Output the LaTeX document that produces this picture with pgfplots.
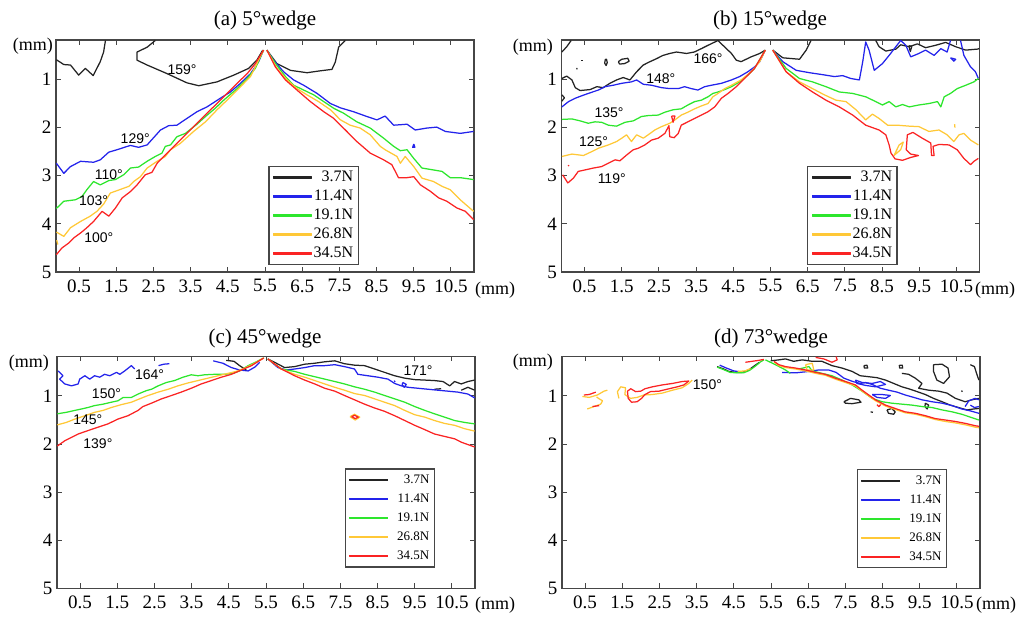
\documentclass[border=0pt]{standalone}
\usepackage{fontspec}
\setmainfont{Liberation Serif}
\newfontfamily\arial{Liberation Sans}
\usepackage{pgfplots}
\pgfplotsset{compat=1.18}
\definecolor{cblk}{RGB}{35,35,35}
\definecolor{cblu}{RGB}{35,35,235}
\definecolor{cgrn}{RGB}{45,230,45}
\definecolor{corg}{RGB}{255,200,55}
\definecolor{cred}{RGB}{250,35,35}
\definecolor{axc}{RGB}{70,70,70}
\pgfplotsset{
  blk/.style={color=cblk,line width=1.25pt},
  blu/.style={color=cblu,line width=1.25pt},
  grn/.style={color=cgrn,line width=1.25pt},
  org/.style={color=corg,line width=1.25pt},
  rd/.style={color=cred,line width=1.25pt},
  panel/.style={width=418pt,height=232pt,scale only axis,
    xmin=-0.12,xmax=11.12,ymin=0.18,ymax=5,y dir=reverse,
    xtick={0.5,1.5,2.5,3.5,4.5,5.5,6.5,7.5,8.5,9.5,10.5},
    xticklabels={0.5,1.5,2.5,3.5,4.5,5.5,6.5,7.5,8.5,9.5,10.5},
    ytick={1,2,3,4,5},yticklabels={1,2,3,4,5},
    tick align=inside,major tick length=5pt,
    axis line style={axc,line width=1.2pt},
    tick style={axc,line width=1pt},
    xticklabel style={font=\fontsize{19}{19}\selectfont,yshift=-4pt},
    yticklabel style={font=\fontsize{19}{19}\selectfont,xshift=-1pt},
    clip=false,
    legend cell align=right,
    every axis plot/.append style={line join=round},
  },
  lg/.style={legend style={at={#1},anchor=north west,draw=axc,line width=1.2pt,fill=white,
    inner xsep=4pt,inner ysep=3pt,row sep=3pt,
    nodes={inner sep=1pt,text height=11pt,text depth=3pt}}},
}
\pgfplotsset{legend image code/.code={\fill[#1] (0pt,-0.7pt) rectangle (38pt,0.7pt);}}
\newcommand{\ang}[3]{\node[font=\arial\fontsize{14}{14}\selectfont,inner sep=0pt] at (axis cs:#1,#2) {#3};}
\newcommand{\legs}[1]{%
  \addlegendimage{color=cblk,fill=cblk}\addlegendentry{\makebox[40pt][r]{#13.7N}}
  \addlegendimage{color=cblu,fill=cblu}\addlegendentry{\makebox[40pt][r]{#111.4N}}
  \addlegendimage{color=cgrn,fill=cgrn}\addlegendentry{\makebox[40pt][r]{#119.1N}}
  \addlegendimage{color=corg,fill=corg}\addlegendentry{\makebox[40pt][r]{#126.8N}}
  \addlegendimage{color=cred,fill=cred}\addlegendentry{\makebox[40pt][r]{#134.5N}}}
\begin{document}
\begin{tikzpicture}
\path[use as bounding box] (0pt,0pt) rectangle (1018pt,618pt);
% ================= (a) =================
\begin{axis}[panel,at={(265pt,462pt)},anchor=center,lg={(0.508,0.457)}]
\legs{\fontsize{16}{16}\selectfont}
\addplot[blk] coordinates {(-0.11,0.59)(0.09,0.69)(0.27,0.70)(0.49,0.91)(0.67,0.77)(0.88,0.92)(1.07,0.63)(1.16,0.43)(1.21,0.19)};
\addplot[blk] coordinates {(2.55,0.19)(2.33,0.33)(2.06,0.43)(2.06,0.60)(2.33,0.70)(2.87,0.88)(3.40,1.07)(3.72,1.13)(4.21,1.05)(4.66,0.91)(5.06,0.77)(5.28,0.60)(5.44,0.39)};
\addplot[blk] coordinates {(5.55,0.39)(5.82,0.67)(6.18,0.81)(6.63,0.86)(6.99,0.82)(7.30,0.79)(7.39,0.64)(7.48,0.33)(7.66,0.19)};
\addplot[blu] coordinates {(-0.11,2.74)(0.09,2.95)(0.27,2.81)(0.54,2.70)(0.89,2.72)(1.07,2.67)(1.30,2.51)(1.52,2.46)(1.88,2.37)(2.10,2.41)(2.33,2.36)(2.69,2.05)(2.91,1.96)(3.13,1.95)(3.40,1.81)(3.67,1.67)(3.94,1.57)(4.30,1.39)(4.57,1.26)(4.84,1.08)(5.11,0.88)(5.33,0.63)(5.46,0.39)};
\addplot[blu] coordinates {(5.55,0.39)(5.73,0.60)(6.00,0.84)(6.27,1.01)(6.54,1.12)(6.90,1.29)(7.26,1.50)(7.53,1.59)(7.88,1.67)(8.24,1.77)(8.51,1.84)(8.73,1.76)(8.96,1.95)(9.32,1.93)(9.54,2.05)(9.85,2.01)(10.12,1.99)(10.35,2.08)(10.75,2.12)(11.11,2.08)};
\addplot[blu] coordinates {(9.50,2.34)(9.53,2.41)(9.47,2.41)(9.50,2.34)};
\addplot[grn] coordinates {(-0.11,3.68)(0.09,3.53)(0.40,3.50)(0.58,3.43)(0.71,3.29)(0.89,3.12)(1.07,3.19)(1.30,3.10)(1.48,3.08)(1.70,2.98)(1.88,2.84)(2.10,2.82)(2.33,2.70)(2.55,2.60)(2.73,2.53)(2.82,2.39)(2.96,2.36)(3.13,2.19)(3.36,2.12)(3.67,1.93)(3.90,1.77)(4.16,1.60)(4.39,1.43)(4.75,1.19)(5.02,0.98)(5.24,0.77)(5.46,0.39)};
\addplot[grn] coordinates {(5.55,0.39)(5.78,0.67)(6.05,0.94)(6.27,1.12)(6.54,1.22)(6.81,1.32)(7.08,1.46)(7.35,1.60)(7.61,1.70)(7.97,1.88)(8.33,2.01)(8.69,2.22)(8.96,2.39)(9.14,2.48)(9.32,2.46)(9.50,2.64)(9.72,2.84)(10.03,2.88)(10.26,2.91)(10.48,3.04)(10.75,3.04)(11.11,3.08)};
\addplot[org] coordinates {(-0.11,4.17)(0.09,4.26)(0.27,4.08)(0.54,3.95)(0.80,3.84)(0.98,3.74)(1.16,3.59)(1.34,3.36)(1.52,3.31)(1.84,3.22)(1.97,3.12)(2.15,3.02)(2.33,2.84)(2.60,2.70)(2.82,2.60)(2.96,2.46)(3.22,2.33)(3.58,2.08)(3.90,1.88)(4.21,1.63)(4.48,1.43)(4.75,1.22)(5.11,0.94)(5.46,0.39)};
\addplot[org] coordinates {(-0.10,4.34)(-0.07,4.43)};
\addplot[org] coordinates {(5.55,0.39)(5.82,0.77)(6.09,1.01)(6.36,1.19)(6.63,1.32)(6.94,1.46)(7.26,1.63)(7.53,1.84)(7.79,1.95)(8.06,2.01)(8.33,2.15)(8.60,2.39)(8.73,2.46)(9.05,2.60)(9.14,2.74)(9.27,2.60)(9.50,2.81)(9.72,3.05)(10.03,3.12)(10.26,3.22)(10.48,3.29)(10.75,3.50)(11.11,3.74)};
\addplot[rd] coordinates {(-0.11,4.64)(0.04,4.50)(0.22,4.40)(0.36,4.29)(0.54,4.19)(0.71,4.08)(0.89,3.95)(1.12,3.74)(1.30,3.84)(1.48,3.67)(1.66,3.46)(1.88,3.33)(2.06,3.19)(2.28,2.98)(2.46,2.93)(2.60,2.74)(2.87,2.53)(3.13,2.33)(3.40,2.12)(3.67,1.91)(3.94,1.70)(4.21,1.50)(4.48,1.29)(4.75,1.08)(5.02,0.88)(5.24,0.67)(5.46,0.39)};
\addplot[rd] coordinates {(5.55,0.39)(5.78,0.74)(6.05,1.01)(6.36,1.22)(6.72,1.46)(7.08,1.67)(7.35,1.81)(7.70,2.08)(7.97,2.29)(8.33,2.53)(8.69,2.67)(8.91,2.77)(9.09,3.04)(9.32,3.04)(9.50,3.02)(9.68,3.19)(9.94,3.32)(10.17,3.46)(10.39,3.53)(10.66,3.67)(10.89,3.74)(11.11,3.91)};
\ang{3.27}{0.79}{159°}
\ang{2.01}{2.22}{129°}
\ang{1.30}{2.97}{110°}
\ang{0.89}{3.51}{103°}
\ang{1.03}{4.28}{100°}
\end{axis}
% ================= (b) =================
\begin{axis}[panel,at={(770.5pt,462pt)},anchor=center,lg={(0.588,0.457)}]
\legs{\fontsize{16}{16}\selectfont}
\addplot[blk] coordinates {(-0.11,0.43)(0.02,0.32)(0.14,0.19)};
\addplot[blk] coordinates {(-0.11,0.98)(0.02,0.93)(0.16,1.01)(0.25,1.17)(0.38,1.23)(0.65,1.21)(0.83,1.15)(1.00,1.17)(1.18,1.08)(1.36,1.01)(1.54,0.96)(1.72,1.01)(1.90,0.84)(2.08,0.70)(2.26,0.63)(2.43,0.57)(2.61,0.50)(2.79,0.46)(2.97,0.43)(3.24,0.46)(3.45,0.43)(3.64,0.36)(3.82,0.29)(4.09,0.19)(4.22,0.29)(4.45,0.46)(4.58,0.60)(4.71,0.63)(4.98,0.53)(5.21,0.46)(5.36,0.39)};
\addplot[blk] coordinates {(-0.11,1.32)(-0.04,1.38)(-0.11,1.45)};
\addplot[blk] coordinates {(1.06,0.58)(1.04,0.66)(1.08,0.71)(1.11,0.65)(1.09,0.58)(1.06,0.58)};
\addplot[blk] coordinates {(1.41,0.63)(1.50,0.58)(1.66,0.56)(1.70,0.62)(1.58,0.67)(1.44,0.68)(1.41,0.63)};
\addplot[blk] coordinates {(0.40,0.60)(0.45,0.60)};
\addplot[blk] coordinates {(0.29,0.76)(0.30,0.79)};
\addplot[blk] coordinates {(5.56,0.39)(5.83,0.55)(6.28,0.58)(6.46,0.39)(6.59,0.19)};
\addplot[blk] coordinates {(8.33,0.19)(8.42,0.32)(8.60,0.41)(8.87,0.37)(9.00,0.28)(9.23,0.32)(9.45,0.26)(9.67,0.34)(9.94,0.29)(10.21,0.23)(10.48,0.32)(10.75,0.39)(11.06,0.37)(11.11,0.36)};
\addplot[blk] coordinates {(9.22,0.30)(9.26,0.42)(9.30,0.31)(9.22,0.30)};
\addplot[blu] coordinates {(-0.11,1.57)(0.07,1.46)(0.25,1.39)(0.42,1.34)(0.60,1.29)(0.87,1.22)(1.05,1.15)(1.27,1.12)(1.50,1.08)(1.76,1.05)(1.90,1.01)(2.08,1.10)(2.30,1.12)(2.57,1.17)(2.79,1.19)(3.02,1.19)(3.19,1.15)(3.37,1.19)(3.55,1.22)(3.73,1.15)(3.91,1.12)(4.18,1.08)(4.45,1.01)(4.67,0.94)(4.89,0.84)(5.07,0.74)(5.21,0.63)(5.36,0.39)};
\addplot[blu] coordinates {(5.56,0.39)(5.83,0.63)(6.19,0.81)(6.55,0.86)(6.90,0.90)(7.22,0.94)(7.44,0.92)(7.66,0.98)(7.89,1.01)(7.98,0.63)(8.06,0.22)(8.15,0.39)(8.29,0.81)(8.51,0.67)(8.69,0.50)(8.87,0.32)(9.00,0.19)(9.14,0.29)(9.27,0.53)(9.49,0.46)(9.67,0.39)(9.90,0.50)(10.08,0.36)(10.25,0.43)(10.34,0.19)};
\addplot[blu] coordinates {(10.61,0.19)(10.70,0.50)(10.88,0.74)(11.01,0.84)(11.09,0.98)};
\addplot[blu] coordinates {(10.34,0.55)(10.48,0.58)(10.43,0.62)(10.34,0.55)};
\addplot[grn] coordinates {(-0.11,1.83)(0.16,1.82)(0.38,1.86)(0.60,1.91)(0.78,1.88)(0.96,1.89)(1.14,1.95)(1.36,1.97)(1.59,1.89)(1.81,1.86)(2.03,1.77)(2.21,1.75)(2.48,1.74)(2.66,1.68)(2.88,1.63)(3.10,1.61)(3.28,1.53)(3.46,1.46)(3.64,1.43)(3.82,1.36)(3.95,1.29)(4.09,1.26)(4.27,1.21)(4.45,1.15)(4.67,1.05)(4.89,0.91)(5.07,0.77)(5.36,0.39)};
\addplot[grn] coordinates {(5.56,0.39)(5.92,0.77)(6.28,0.98)(6.63,1.05)(6.99,1.15)(7.35,1.26)(7.71,1.29)(8.06,1.36)(8.33,1.46)(8.51,1.53)(8.69,1.46)(8.87,1.57)(9.05,1.52)(9.23,1.57)(9.49,1.53)(9.76,1.50)(9.99,1.46)(10.08,1.57)(10.17,1.36)(10.34,1.29)(10.52,1.19)(10.75,1.12)(10.97,1.05)(11.09,0.98)};
\addplot[org] coordinates {(-0.11,2.60)(0.16,2.55)(0.47,2.58)(0.69,2.50)(0.87,2.43)(1.14,2.36)(1.36,2.29)(1.50,2.22)(1.63,2.15)(1.76,2.29)(1.90,2.15)(2.08,2.22)(2.21,2.15)(2.39,2.05)(2.57,1.98)(2.79,1.91)(2.93,1.84)(3.10,1.74)(3.28,1.68)(3.46,1.61)(3.64,1.55)(3.82,1.50)(3.95,1.36)(4.09,1.29)(4.27,1.19)(4.45,1.12)(4.71,1.01)(4.98,0.84)(5.21,0.63)(5.36,0.39)};
\addplot[org] coordinates {(5.56,0.39)(5.92,0.84)(6.28,1.05)(6.63,1.19)(6.95,1.32)(7.26,1.43)(7.53,1.46)(7.80,1.63)(8.06,1.84)(8.24,1.72)(8.42,1.81)(8.65,1.95)(8.91,1.95)(9.23,1.97)(9.49,1.98)(9.76,2.08)(10.03,2.05)(10.25,2.15)(10.43,2.29)(10.57,2.15)(10.70,2.12)(10.88,2.26)(11.09,2.36)};
\addplot[org] coordinates {(8.82,2.58)(8.96,2.36)(9.07,2.30)(9.00,2.46)(8.82,2.58)};
\addplot[org] coordinates {(10.45,1.93)(10.46,2.00)};
\addplot[rd] coordinates {(-0.09,2.98)(0.05,3.15)(0.20,3.05)(0.33,2.91)(0.51,2.88)(0.74,2.84)(0.96,2.81)(1.14,2.74)(1.32,2.67)(1.45,2.69)(1.63,2.57)(1.81,2.46)(1.94,2.43)(2.12,2.36)(2.30,2.26)(2.48,2.22)(2.66,2.12)(2.77,1.96)(2.79,2.19)(2.91,2.21)(3.02,2.12)(3.10,1.95)(3.28,1.88)(3.46,1.81)(3.64,1.74)(3.82,1.67)(4.00,1.57)(4.18,1.39)(4.36,1.29)(4.58,1.15)(4.80,0.98)(5.07,0.77)(5.36,0.39)};
\addplot[rd] coordinates {(2.84,1.76)(2.88,1.89)(2.93,1.76)(2.84,1.76)};
\addplot[rd] coordinates {(0.06,2.78)(0.08,2.80)};
\addplot[rd] coordinates {(5.56,0.39)(5.92,0.84)(6.28,1.08)(6.63,1.26)(6.99,1.43)(7.35,1.57)(7.71,1.74)(8.06,1.95)(8.42,2.05)(8.60,2.15)(8.69,2.36)(8.74,2.53)(8.85,2.65)(9.05,2.68)(9.27,2.62)(9.48,2.58)(9.27,2.55)(9.15,2.46)(9.18,2.15)(9.33,2.10)(9.58,2.22)(9.81,2.32)(9.83,2.58)(9.90,2.58)(9.87,2.39)(10.03,2.35)(10.30,2.36)(10.52,2.46)(10.70,2.64)(10.88,2.77)(10.97,2.70)(11.09,2.64)};
\ang{3.82}{0.57}{166°}
\ang{2.55}{0.98}{148°}
\ang{1.16}{1.70}{135°}
\ang{0.74}{2.30}{125°}
\ang{1.23}{3.06}{119°}
\end{axis}
% ================= (c) =================
\begin{axis}[panel,at={(266pt,145.5pt)},anchor=center,lg={(0.688,0.518)}]
\legs{\fontsize{13}{13}\selectfont}
\addplot[blu] coordinates {(-0.09,0.48)(0.04,0.58)(-0.05,0.65)(0.09,0.75)(0.27,0.79)(0.45,0.75)(0.49,0.65)(0.63,0.58)(0.76,0.65)(0.89,0.58)(1.03,0.61)(1.16,0.55)(1.30,0.58)(1.48,0.51)(1.57,0.55)(1.70,0.48)(1.88,0.37)(1.97,0.44)};
\addplot[blu] coordinates {(2.61,0.37)(2.75,0.34)(2.90,0.33)};
\addplot[blu] coordinates {(4.08,0.27)(4.34,0.32)(4.57,0.41)(4.79,0.46)(5.02,0.48)(5.20,0.40)(5.33,0.30)};
\addplot[blk] coordinates {(4.43,0.26)(4.64,0.28)(4.79,0.37)(4.97,0.46)};
\addplot[blk] coordinates {(5.55,0.23)(5.73,0.30)(6.00,0.41)(6.27,0.39)(6.54,0.34)(6.81,0.32)(7.08,0.29)(7.35,0.27)(7.61,0.33)(7.88,0.36)(8.15,0.37)(8.42,0.44)(8.69,0.51)(8.96,0.58)(9.23,0.63)(9.50,0.66)(9.77,0.67)(10.03,0.68)(10.26,0.70)(10.44,0.79)(10.57,0.70)(10.75,0.75)(10.93,0.70)(11.11,0.67)};
\addplot[blk] coordinates {(10.75,0.88)(10.93,0.82)(11.11,0.88)};
\addplot[blk] coordinates {(10.03,0.86)(10.21,0.85)};
\addplot[blu] coordinates {(5.55,0.23)(5.82,0.41)(6.05,0.46)(6.27,0.44)(6.54,0.41)(6.81,0.37)(7.08,0.37)(7.35,0.35)(7.61,0.39)(7.88,0.44)(7.97,0.55)(8.24,0.58)(8.51,0.61)(8.78,0.65)(8.96,0.74)(9.14,0.79)(9.32,0.82)(9.59,0.84)(9.85,0.86)(10.12,0.88)(10.39,0.90)(10.66,0.92)(10.93,0.96)(11.11,1.04)};
\addplot[blu] coordinates {(9.18,0.72)(9.27,0.76)(9.22,0.82)(9.16,0.77)(9.18,0.72)};
\addplot[blu] coordinates {(8.95,0.68)(8.97,0.71)};
\addplot[grn] coordinates {(-0.11,1.37)(0.13,1.34)(0.36,1.30)(0.54,1.27)(0.71,1.24)(0.89,1.20)(1.12,1.17)(1.34,1.13)(1.52,1.10)(1.66,1.03)(1.88,1.03)(2.06,0.96)(2.28,0.89)(2.42,0.86)(2.60,0.79)(2.82,0.72)(3.04,0.68)(3.27,0.61)(3.49,0.56)(3.67,0.58)(3.85,0.56)(4.12,0.55)(4.39,0.55)(4.61,0.53)(4.79,0.48)(5.02,0.37)(5.24,0.29)(5.44,0.21)};
\addplot[org] coordinates {(-0.11,1.60)(0.13,1.55)(0.36,1.48)(0.63,1.41)(0.89,1.34)(1.12,1.30)(1.34,1.24)(1.61,1.18)(1.88,1.13)(2.10,1.06)(2.33,0.99)(2.60,0.92)(2.87,0.86)(3.13,0.79)(3.40,0.73)(3.67,0.68)(3.94,0.63)(4.21,0.58)(4.48,0.53)(4.70,0.49)(4.93,0.42)(5.15,0.34)(5.44,0.21)};
\addplot[rd] coordinates {(-0.11,2.04)(0.09,1.93)(0.27,1.86)(0.45,1.79)(0.71,1.72)(0.98,1.65)(1.25,1.58)(1.52,1.48)(1.79,1.41)(2.06,1.30)(2.19,1.22)(2.42,1.15)(2.69,1.06)(2.96,0.99)(3.22,0.92)(3.49,0.84)(3.76,0.75)(4.03,0.68)(4.30,0.61)(4.57,0.55)(4.84,0.46)(5.11,0.37)(5.44,0.21)};
\addplot[grn] coordinates {(5.55,0.23)(5.91,0.44)(6.27,0.49)(6.54,0.55)(6.81,0.60)(7.08,0.65)(7.35,0.70)(7.61,0.75)(7.88,0.81)(8.15,0.86)(8.42,0.92)(8.69,0.99)(8.96,1.06)(9.23,1.13)(9.50,1.22)(9.77,1.30)(10.03,1.37)(10.30,1.44)(10.57,1.51)(10.84,1.55)(11.11,1.58)};
\addplot[org] coordinates {(5.55,0.23)(5.91,0.44)(6.27,0.55)(6.54,0.61)(6.81,0.68)(7.08,0.75)(7.35,0.82)(7.61,0.88)(7.88,0.95)(8.15,0.99)(8.42,1.06)(8.69,1.13)(8.96,1.20)(9.23,1.30)(9.50,1.39)(9.77,1.44)(10.03,1.51)(10.30,1.57)(10.57,1.61)(10.84,1.68)(11.11,1.73)};
\addplot[rd] coordinates {(5.55,0.23)(5.91,0.44)(6.27,0.58)(6.54,0.67)(6.81,0.75)(7.08,0.84)(7.35,0.90)(7.61,0.99)(7.88,1.08)(8.15,1.17)(8.42,1.25)(8.69,1.32)(8.96,1.41)(9.23,1.51)(9.50,1.61)(9.77,1.70)(10.03,1.79)(10.30,1.84)(10.57,1.89)(10.75,1.96)(10.93,2.01)(11.11,2.06)};
\addplot[org] coordinates {(7.76,1.43)(7.88,1.38)(8.02,1.44)(7.90,1.50)(7.76,1.43)};
\addplot[rd] coordinates {(7.80,1.43)(7.88,1.40)(7.98,1.44)(7.90,1.47)(7.80,1.43)};
\ang{2.37}{0.55}{164°}
\ang{1.21}{0.96}{150°}
\ang{0.71}{1.50}{145°}
\ang{0.98}{1.99}{139°}
\ang{9.59}{0.48}{171°}
\end{axis}
% ================= (d) =================
\begin{axis}[panel,at={(771pt,145.5pt)},anchor=center,lg={(0.705,0.514)}]
\legs{\fontsize{13}{13}\selectfont}
\addplot[rd] coordinates {(0.47,0.98)(0.61,0.97)(0.79,0.92)};
\addplot[org] coordinates {(0.43,1.01)(0.61,1.03)(0.83,0.98)(1.01,0.90)(1.10,0.88)};
\addplot[org] coordinates {(0.56,1.27)(0.74,1.22)(0.92,1.17)(0.97,1.10)(0.86,1.05)(0.81,1.02)};
\addplot[rd] coordinates {(0.70,1.22)(0.88,1.20)};
\addplot[org] coordinates {(1.41,1.05)(1.37,0.91)(1.46,0.81)(1.59,0.83)(1.57,0.97)(1.72,1.05)(1.90,1.03)(2.08,0.98)(2.31,0.97)(2.58,0.94)(2.85,0.88)(3.11,0.83)(3.29,0.74)(3.38,0.67)};
\addplot[rd] coordinates {(1.64,0.90)(1.66,1.05)(1.75,1.13)(1.90,1.12)(2.02,1.05)(2.11,0.97)(2.26,0.91)(2.49,0.90)(2.76,0.85)(2.98,0.81)(3.16,0.77)(3.29,0.69)(3.11,0.70)(2.85,0.74)(2.58,0.77)(2.31,0.81)(2.11,0.85)(2.00,0.90)(1.86,0.91)(1.73,0.85)(1.64,0.90)};
\addplot[blk] coordinates {(4.05,0.39)(4.23,0.44)(4.37,0.49)(4.55,0.51)(4.73,0.51)(4.90,0.46)(5.06,0.37)(5.19,0.30)};
\addplot[blu] coordinates {(4.12,0.36)(4.30,0.42)(4.50,0.48)(4.70,0.50)};
\addplot[grn] coordinates {(4.05,0.40)(4.25,0.46)(4.40,0.51)(4.58,0.52)(4.76,0.52)(4.92,0.47)(5.08,0.38)(5.22,0.29)(5.31,0.25)};
\addplot[org] coordinates {(4.60,0.49)(4.80,0.48)(4.95,0.43)};
\addplot[rd] coordinates {(4.81,0.30)(4.99,0.28)(5.17,0.26)(5.31,0.24)};
\addplot[blk] coordinates {(5.49,0.27)(5.71,0.25)(5.89,0.23)(6.11,0.28)(6.34,0.25)(6.61,0.28)(6.87,0.28)(7.14,0.37)(7.41,0.42)(7.68,0.49)(7.90,0.58)(8.13,0.60)(8.35,0.62)(8.58,0.67)(8.80,0.74)(9.02,0.81)(9.20,0.85)(9.43,0.91)(9.65,0.97)(9.87,1.05)(10.10,1.12)(10.32,1.19)(10.54,1.24)(10.77,1.29)(10.95,1.27)(11.09,1.26)};
\addplot[blk] coordinates {(9.02,0.53)(9.20,0.55)(9.38,0.63)(9.56,0.74)(9.47,0.84)(9.74,0.88)(10.01,0.90)(10.23,0.94)(10.46,1.05)(10.72,1.12)(10.90,1.08)(11.09,1.05)};
\addplot[blk] coordinates {(9.87,0.35)(10.10,0.34)(10.26,0.42)(10.30,0.60)(10.14,0.74)(9.96,0.67)(9.87,0.49)(9.87,0.35)};
\addplot[blk] coordinates {(10.86,0.35)(10.97,0.39)(11.04,0.56)(11.09,0.67)};
\addplot[blk] coordinates {(8.00,0.37)(8.08,0.36)(8.10,0.42)(8.01,0.42)(8.00,0.37)};
\addplot[blk] coordinates {(8.95,0.36)(9.03,0.36)(9.04,0.42)(8.96,0.42)(8.95,0.36)};
\addplot[blk] coordinates {(7.46,1.12)(7.64,1.05)(7.86,1.08)(7.92,1.13)(7.68,1.16)(7.50,1.15)(7.46,1.12)};
\addplot[blk] coordinates {(8.62,1.29)(8.75,1.26)(8.84,1.33)(8.80,1.38)(8.66,1.36)(8.62,1.29)};
\addplot[blk] coordinates {(9.65,1.15)(9.74,1.19)(9.70,1.27)(9.64,1.22)(9.65,1.15)};
\addplot[blk] coordinates {(8.18,1.33)(8.24,1.34)};
\addplot[blk] coordinates {(10.62,0.89)(10.65,0.91)};
\addplot[blu] coordinates {(5.80,0.51)(6.16,0.52)(6.52,0.49)(6.78,0.46)(7.05,0.46)(7.25,0.51)(7.46,0.63)(7.70,0.70)(7.90,0.74)(8.04,0.72)(8.22,0.76)(8.44,0.84)(8.66,0.88)(8.89,0.92)(9.11,0.98)(9.34,1.03)(9.56,1.08)(9.83,1.12)(10.10,1.15)(10.37,1.20)(10.63,1.27)(10.86,1.31)(11.09,1.36)};
\addplot[blu] coordinates {(7.77,0.67)(7.95,0.72)(8.22,0.74)(8.44,0.70)(8.58,0.76)(8.31,0.81)(8.04,0.78)(7.81,0.74)(7.77,0.67)};
\addplot[blu] coordinates {(8.22,0.97)(8.49,0.97)(8.71,0.99)(8.58,1.05)(8.35,1.03)(8.22,0.97)};
\addplot[blu] coordinates {(10.72,1.22)(10.82,1.10)(10.99,1.05)(11.09,1.08)};
\addplot[blu] coordinates {(10.86,1.19)(10.97,1.24)(11.09,1.22)};
\addplot[grn] coordinates {(5.35,0.25)(5.62,0.35)(5.89,0.46)(6.02,0.53)};
\addplot[grn] coordinates {(6.25,0.44)(6.52,0.39)(6.61,0.48)(6.87,0.53)(7.14,0.58)(7.41,0.67)(7.68,0.77)(7.95,0.90)(8.22,1.05)(8.49,1.12)(8.75,1.15)(9.02,1.17)(9.29,1.19)(9.56,1.22)(9.83,1.24)(10.10,1.29)(10.37,1.33)(10.63,1.38)(10.90,1.45)(11.09,1.50)};
\addplot[org] coordinates {(5.58,0.29)(5.71,0.37)(5.89,0.41)(6.16,0.44)(6.43,0.48)(6.70,0.53)(6.96,0.57)(7.23,0.65)(7.50,0.72)(7.77,0.79)(7.95,0.90)(8.13,1.00)(8.31,1.10)(8.58,1.21)(8.84,1.28)(9.11,1.35)(9.38,1.38)(9.65,1.43)(9.92,1.49)(10.19,1.53)(10.46,1.56)(10.73,1.60)(11.00,1.65)(11.09,1.66)};
\addplot[org] coordinates {(6.43,0.35)(6.61,0.32)(6.65,0.46)(6.47,0.46)(6.43,0.35)};
\addplot[rd] coordinates {(5.58,0.28)(5.71,0.35)(5.89,0.39)(6.16,0.42)(6.43,0.46)(6.70,0.51)(6.96,0.55)(7.23,0.63)(7.50,0.70)(7.77,0.77)(7.95,0.88)(8.13,0.98)(8.31,1.08)(8.58,1.19)(8.84,1.26)(9.11,1.33)(9.38,1.36)(9.65,1.41)(9.92,1.47)(10.19,1.50)(10.46,1.53)(10.73,1.57)(11.00,1.62)(11.09,1.63)};
\addplot[rd] coordinates {(6.70,0.20)(6.92,0.23)(7.14,0.30)(7.28,0.25)(7.25,0.18)};
\addplot[rd] coordinates {(8.35,1.18)(8.40,1.22)(8.45,1.18)};
\ang{3.79}{0.77}{150°}
\end{axis}
% ================= outer labels =================
\begin{scope}[every node/.style={inner sep=0pt}]
\node[font=\fontsize{21}{21}\selectfont] at (265pt,598pt) {(a) 5°wedge};
\node[font=\fontsize{21}{21}\selectfont] at (770pt,598pt) {(b) 15°wedge};
\node[font=\fontsize{21}{21}\selectfont] at (265pt,280pt) {(c) 45°wedge};
\node[font=\fontsize{21}{21}\selectfont] at (771pt,280pt) {(d) 73°wedge};
\node[font=\fontsize{18}{18}\selectfont,anchor=east] at (53pt,572pt) {(mm)};
\node[font=\fontsize{18}{18}\selectfont,anchor=east] at (553pt,571pt) {(mm)};
\node[font=\fontsize{18}{18}\selectfont,anchor=east] at (49pt,255pt) {(mm)};
\node[font=\fontsize{18}{18}\selectfont,anchor=east] at (553pt,256pt) {(mm)};
\node[font=\fontsize{18}{18}\selectfont,anchor=west] at (475pt,328pt) {(mm)};
\node[font=\fontsize{18}{18}\selectfont,anchor=west] at (975pt,328pt) {(mm)};
\node[font=\fontsize{18}{18}\selectfont,anchor=west] at (475pt,13pt) {(mm)};
\node[font=\fontsize{18}{18}\selectfont,anchor=west] at (976pt,13pt) {(mm)};
\end{scope}
\end{tikzpicture}
\end{document}
